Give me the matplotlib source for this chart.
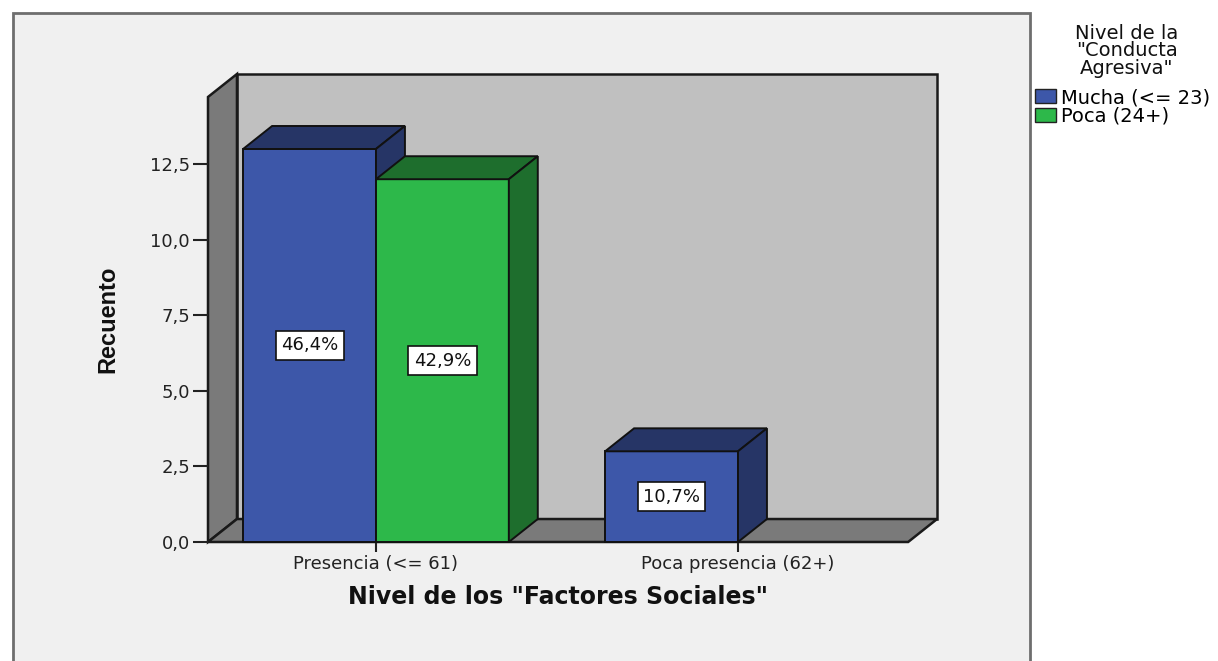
import matplotlib.pyplot as plt
from matplotlib.patches import Rectangle, Patch

# datos
categorias = ['Presencia (<= 61)', 'Poca presencia (62+)']
series = ['Mucha (<= 23)', 'Poca (24+)']
mucha = [13, 3]
poca = [12, 0]
yticks = [0, 2.5, 5, 7.5, 10, 12.5]

valores = [mucha, poca]
total = sum(mucha) + sum(poca)
frente = ['#3D57A9', '#2DB84A']
oscuro = ['#263566', '#1E6E2D']

W, H = 1218, 661
fig = plt.figure(figsize=(W / 100, H / 100), dpi=100)
fig.patch.set_facecolor('white')
fig.add_artist(Rectangle((13 / W, -0.1), (1030 - 13) / W, 1 - 13 / H + 0.1,
                         transform=fig.transFigure, facecolor='#F0F0F0',
                         edgecolor='#6E6E6E', lw=2, zorder=-1))

ax = fig.add_axes([208 / W, (H - 542) / H, (936 - 208) / W, (542 - 74) / H])
ax.set_xlim(-0.464, 1.547)
ax.set_ylim(0, 15.48)
ax.patch.set_visible(False)
for s in ax.spines.values():
    s.set_visible(False)

# profundidad 3D
dx, dy = 0.08, 0.76
x0, xr, ytop = -0.464, 1.47, 14.72
w = 0.367

# paredes y suelo
ax.fill([x0 + dx, xr + dx, xr + dx, x0 + dx], [dy, dy, ytop + dy, ytop + dy],
        fc='#C0C0C0', ec='#1A1A1A', lw=1.8, zorder=1, clip_on=False)
ax.fill([x0, x0 + dx, x0 + dx, x0], [0, dy, ytop + dy, ytop],
        fc='#7A7A7A', ec='#1A1A1A', lw=1.8, zorder=1, clip_on=False)
ax.fill([x0, xr, xr + dx, x0 + dx], [0, 0, dy, dy],
        fc='#7A7A7A', ec='#1A1A1A', lw=1.8, zorder=1, clip_on=False)

z = 2
for i in range(len(categorias)):
    for j in range(len(series)):
        v = valores[j][i]
        if v == 0:
            continue
        left = i - w + j * w
        ax.bar(left, v, width=w, align='edge', color=frente[j],
               edgecolor='#111111', lw=1.4, zorder=z, clip_on=False)
        ax.fill([left, left + w, left + w + dx, left + dx], [v, v, v + dy, v + dy],
                fc=oscuro[j], ec='#111111', lw=1.4, zorder=z, clip_on=False)
        ax.fill([left + w, left + w + dx, left + w + dx, left + w], [0, dy, v + dy, v],
                fc=oscuro[j], ec='#111111', lw=1.4, zorder=z, clip_on=False)
        pct = f'{100 * v / total:.1f}%'.replace('.', ',')
        ax.text(left + w / 2, v / 2, pct, ha='center', va='center', fontsize=13,
                color='#111111', zorder=z + 1,
                bbox=dict(boxstyle='square,pad=0.3', fc='white', ec='#111111', lw=1.2))
        z += 2

ax.set_yticks(yticks)
ax.set_yticklabels([f'{t:.1f}'.replace('.', ',') for t in yticks])
ax.set_xticks(range(len(categorias)))
ax.set_xticklabels(categorias)
ax.tick_params(axis='y', length=11, width=1.5, direction='out', labelsize=13,
               pad=2, colors='#222222')
ax.tick_params(axis='x', length=7.5, width=1.5, direction='out', labelsize=13,
               pad=2, colors='#222222')

fig.text(108 / W, 1 - 319 / H, 'Recuento', rotation=90, ha='center', va='center',
         fontsize=17, fontweight='bold', color='#111111',
         family=['Liberation Sans', 'DejaVu Sans'])
fig.text(558 / W, 1 - 597 / H, 'Nivel de los "Factores Sociales"', ha='center',
         va='center', fontsize=17, fontweight='bold', color='#111111')

# leyenda
fig.text(1127 / W, 1 - 51 / H, 'Nivel de la\n"Conducta\nAgresiva"', ha='center',
         va='center', multialignment='center', linespacing=0.88, fontsize=14,
         color='#111111')
handles = [Patch(fc=frente[j], ec='#222222', lw=1) for j in range(len(series))]
fig.legend(handles, series, loc='upper left', bbox_to_anchor=(1035 / W, 1 - 88 / H),
           frameon=False, fontsize=14, handlelength=1.08, handleheight=0.72,
           handletextpad=0.25, labelspacing=0.0, borderpad=0, borderaxespad=0)

fig.savefig('out.png', dpi=100)
